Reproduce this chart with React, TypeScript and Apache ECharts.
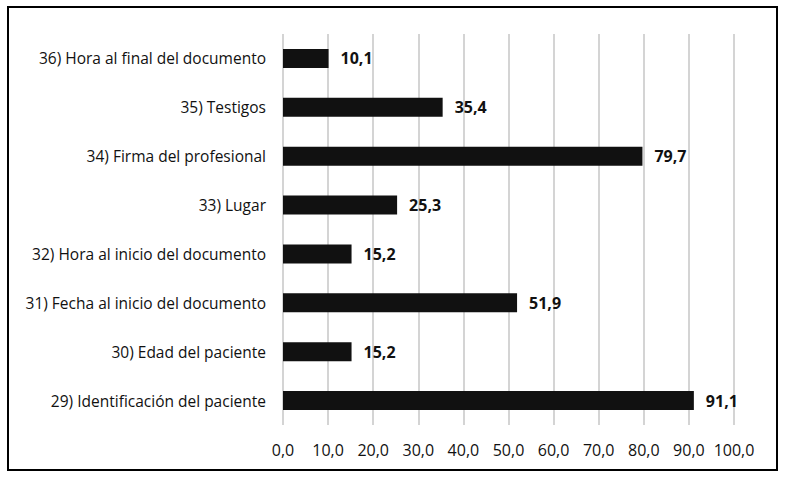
import React, { useEffect, useRef } from "react";
import * as echarts from "echarts";

const categories = [
  "29) Identificación del paciente",
  "30) Edad del paciente",
  "31) Fecha al inicio del documento",
  "32) Hora al inicio del documento",
  "33) Lugar",
  "34) Firma del profesional",
  "35) Testigos",
  "36) Hora al final del documento",
];
const values = [91.1, 15.2, 51.9, 15.2, 25.3, 79.7, 35.4, 10.1];

const fmt = (v: number) => v.toFixed(1).replace(".", ",");
const FONT = "Open Sans";

export default function App() {
  const ref = useRef<HTMLDivElement>(null);
  useEffect(() => {
    if (!ref.current) return;
    const chart = echarts.init(ref.current, null, { renderer: "svg" });
    chart.setOption({
      animation: false,
      backgroundColor: "#ffffff",
      textStyle: { fontFamily: FONT },
      graphic: [
        {
          type: "rect",
          shape: { x: 8, y: 7, width: 769, height: 463 },
          style: { fill: "none", stroke: "#000", lineWidth: 2 },
          silent: true,
        },
      ],
      grid: { left: 283, right: 51, top: 34, bottom: 55 },
      xAxis: {
        type: "value",
        min: 0,
        max: 100,
        interval: 10,
        axisLine: { show: false },
        axisTick: { show: false },
        axisLabel: {
          formatter: (v: number) => fmt(v),
          color: "#111",
          fontSize: 16,
          fontWeight: 500,
          fontFamily: FONT,
          margin: 17,
        },
        splitLine: { show: true, lineStyle: { color: "#d4d4d4", width: 2 } },
      },
      yAxis: {
        type: "category",
        data: categories,
        axisLine: { show: false },
        axisTick: { show: false },
        axisLabel: {
          color: "#111",
          fontSize: 15.5,
          fontWeight: 500,
          fontFamily: FONT,
          margin: 17,
        },
      },
      series: [
        {
          type: "bar",
          data: values,
          barWidth: "39%",
          itemStyle: { color: "#111" },
          label: {
            show: true,
            position: "right",
            distance: 12,
            formatter: (p: any) => fmt(p.value),
            color: "#111",
            fontWeight: "bold",
            fontSize: 16,
            fontFamily: FONT,
          },
        },
      ],
    });
    return () => chart.dispose();
  }, []);
  return (
    <div
      ref={ref}
      style={{ position: "fixed", left: 0, top: 0, width: 785, height: 480 }}
    />
  );
}
